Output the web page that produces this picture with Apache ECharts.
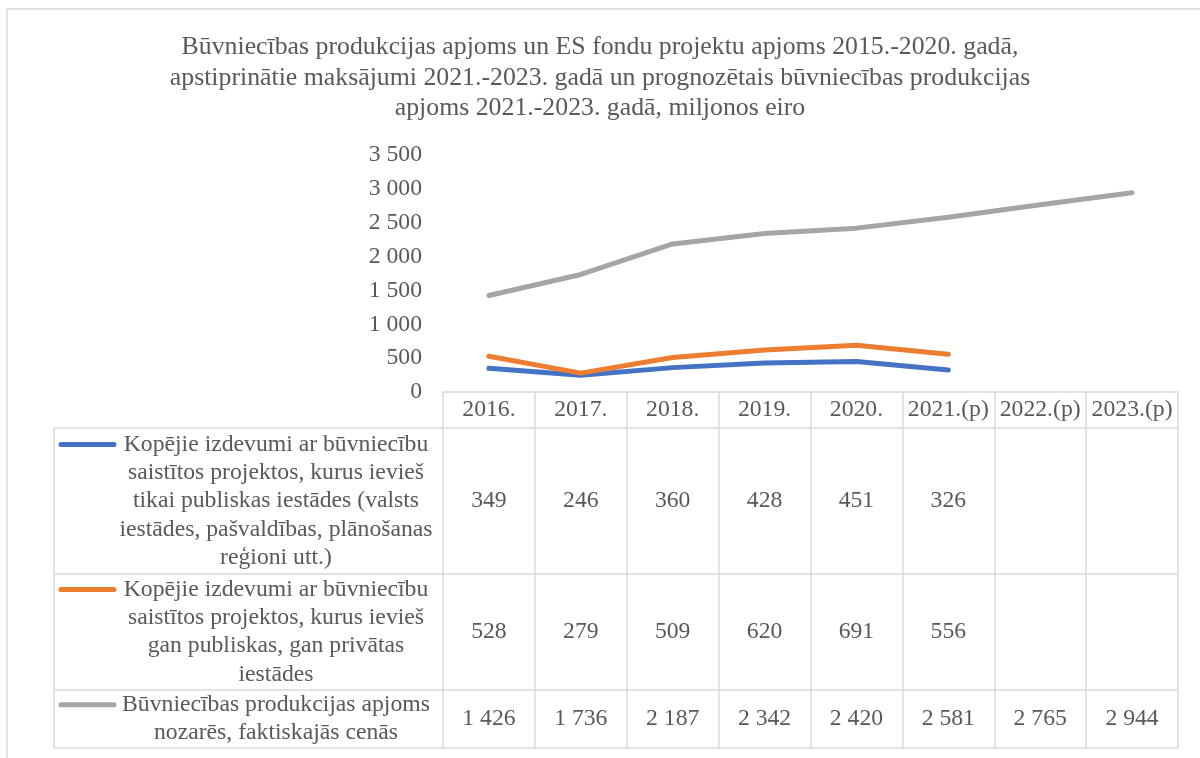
<!DOCTYPE html>
<html>
<head>
<meta charset="utf-8">
<script src="https://cdn.jsdelivr.net/npm/echarts@6/dist/echarts.min.js"></script>
<style>html,body{margin:0;padding:0;background:#fff}#c{width:1200px;height:758px}</style>
</head>
<body>
<div id="c"></div>
<script>
const titleText = 'Būvniecības produkcijas apjoms un ES fondu projektu apjoms 2015.-2020. gadā,\napstiprinātie maksājumi 2021.-2023. gadā un prognozētais būvniecības produkcijas\napjoms 2021.-2023. gadā, miljonos eiro';
const categories = ['2016.', '2017.', '2018.', '2019.', '2020.', '2021.(p)', '2022.(p)', '2023.(p)'];
const publicOnly = [349, 246, 360, 428, 451, 326, null, null];
const publicPrivate = [528, 279, 509, 620, 691, 556, null, null];
const production = [1426, 1736, 2187, 2342, 2420, 2581, 2765, 2944];
const seriesNames = [
  'Kopējie izdevumi ar būvniecību\nsaistītos projektos, kurus ievieš\ntikai publiskas iestādes (valsts\niestādes, pašvaldības, plānošanas\nreģioni utt.)',
  'Kopējie izdevumi ar būvniecību\nsaistītos projektos, kurus ievieš\ngan publiskas, gan privātas\niestādes',
  'Būvniecības produkcijas apjoms\nnozarēs, faktiskajās cenās'
];
const seriesColors = ['#4472C4', '#ED7D31', '#A5A5A5'];
const yMin = 0, yMax = 3500, yInterval = 500;

// layout
const W = 1200, H = 758;
const gridLeft = 443, gridRightX = 1178, axisY = 392, gridTop = 155;
const tableLeft = 54;
const rowBounds = [428, 574, 690, 748];
const textColor = '#595959';
const borderColor = '#D9D9D9';
const font = '"Liberation Serif", "Times New Roman", serif';
const fs = 23.7;
const titleFs = 25.8;

function fmt(v) { return String(v).replace(/\B(?=(\d{3})+(?!\d))/g, ' '); }

const allData = [publicOnly, publicPrivate, production];

const chart = echarts.init(document.getElementById('c'), null, { renderer: 'canvas' });
chart.setOption({
  backgroundColor: '#fff',
  animation: false,
  textStyle: { fontFamily: font },
  title: {
    text: titleText,
    left: 'center',
    top: 27,
    textStyle: { fontFamily: font, fontSize: titleFs, fontWeight: 'normal', color: textColor, lineHeight: 30.5 }
  },
  grid: { left: gridLeft, right: W - gridRightX, top: gridTop, bottom: H - axisY, containLabel: false },
  xAxis: {
    type: 'category',
    data: categories,
    boundaryGap: true,
    axisLine: { show: true, lineStyle: { color: borderColor, width: 1.5 } },
    axisTick: { show: true, length: rowBounds[3] - axisY, interval: 0, lineStyle: { color: borderColor, width: 1.5 } },
    axisLabel: { fontFamily: font, fontSize: fs, color: textColor, margin: 6, interval: 0 },
    splitLine: { show: false }
  },
  yAxis: {
    type: 'value',
    min: yMin, max: yMax, interval: yInterval,
    axisLine: { show: false }, axisTick: { show: false },
    splitLine: { show: false },
    axisLabel: { fontFamily: font, fontSize: fs, color: textColor, margin: 21, formatter: v => fmt(v) }
  },
  series: allData.map((d, i) => ({
    type: 'line',
    name: seriesNames[i],
    data: d,
    showSymbol: false,
    symbol: 'none',
    lineStyle: { color: seriesColors[i], width: 5, cap: 'round', join: 'round' },
    itemStyle: { color: seriesColors[i] },
    z: 3 + i
  }))
});

const els = [];
els.push({ type: 'rect', shape: { x: 7, y: 9, width: W, height: H + 20 }, style: { fill: null, stroke: borderColor, lineWidth: 1.5 }, silent: true, z: 0 });
rowBounds.forEach(y => {
  els.push({ type: 'line', shape: { x1: tableLeft, y1: y, x2: gridRightX, y2: y }, style: { stroke: borderColor, lineWidth: 1.5 }, silent: true });
});
els.push({ type: 'line', shape: { x1: tableLeft, y1: rowBounds[0], x2: tableLeft, y2: rowBounds[3] }, style: { stroke: borderColor, lineWidth: 1.5 }, silent: true });

for (let r = 0; r < 3; r++) {
  const top = rowBounds[r], bot = rowBounds[r + 1];
  const cy = (top + bot) / 2;
  const nLines = seriesNames[r].split('\n').length;
  const lh = 28.3;
  const firstLineY = cy - (nLines - 1) * lh / 2;
  els.push({ type: 'line', shape: { x1: 61, y1: firstLineY, x2: 114, y2: firstLineY },
    style: { stroke: seriesColors[r], lineWidth: 5, lineCap: 'round' }, silent: true });
  els.push({ type: 'text', x: 276, y: cy,
    style: { text: seriesNames[r], font: fs + 'px ' + font, fill: textColor, align: 'center', verticalAlign: 'middle', lineHeight: lh }, silent: true });
  allData[r].forEach((v, i) => {
    if (v == null) return;
    const px = chart.convertToPixel({ xAxisIndex: 0 }, i);
    els.push({ type: 'text', x: px, y: cy,
      style: { text: fmt(v), font: fs + 'px ' + font, fill: textColor, align: 'center', verticalAlign: 'middle' }, silent: true });
  });
}
chart.setOption({ graphic: { elements: els } });
</script>
</body>
</html>
